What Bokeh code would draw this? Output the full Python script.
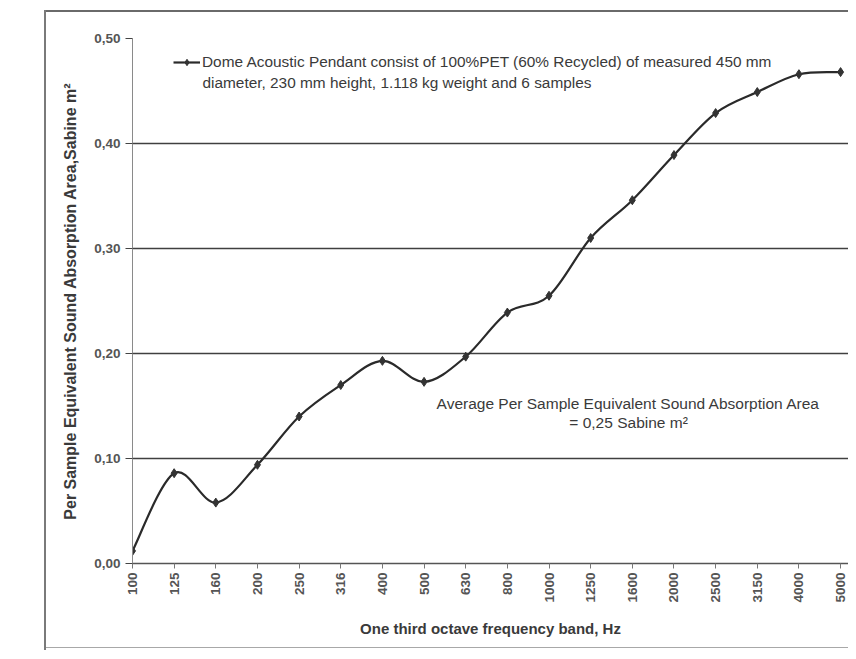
import math
from bokeh.plotting import figure
from bokeh.models import (Range1d, FixedTicker, Label, Legend, LegendItem,
                          ColumnDataSource)
from bokeh.embed import file_html
from bokeh.resources import INLINE

# ---------------- data ----------------
freq_labels = ["100", "125", "160", "200", "250", "316", "400", "500", "630",
               "800", "1000", "1250", "1600", "2000", "2500", "3150", "4000", "5000"]
absorption = [0.012, 0.086, 0.058, 0.094, 0.140, 0.170, 0.193, 0.173, 0.197,
              0.239, 0.255, 0.310, 0.346, 0.389, 0.429, 0.449, 0.466, 0.468]
y_ticks = [0.0, 0.1, 0.2, 0.3, 0.4, 0.5]
y_tick_labels = ["0,00", "0,10", "0,20", "0,30", "0,40", "0,50"]

series_label_1 = "Dome Acoustic Pendant consist of 100%PET (60% Recycled) of measured 450 mm"
series_label_2 = "diameter, 230 mm height, 1.118 kg weight and 6 samples"
note_1 = "Average Per Sample Equivalent Sound Absorption Area"
note_2 = "= 0,25 Sabine m\u00b2"
x_title = "One third octave frequency band, Hz"
y_title = "Per Sample Equivalent Sound Absorption Area,Sabine m\u00b2"

# ---------------- styling ----------------
FONT = "Liberation Sans"
TXT = "#3a3a3a"
LINE = "#2a2a2a"

xs = list(range(len(freq_labels)))

# smooth curve segments (Catmull-Rom -> cubic Bezier) computed from the data
n = len(xs)
seg = dict(x0=[], y0=[], x1=[], y1=[], cx0=[], cy0=[], cx1=[], cy1=[])
for i in range(n - 1):
    pm = (xs[max(i - 1, 0)], absorption[max(i - 1, 0)])
    p0 = (xs[i], absorption[i])
    p1 = (xs[i + 1], absorption[i + 1])
    pp = (xs[min(i + 2, n - 1)], absorption[min(i + 2, n - 1)])
    seg["x0"].append(p0[0]); seg["y0"].append(p0[1])
    seg["x1"].append(p1[0]); seg["y1"].append(p1[1])
    seg["cx0"].append(p0[0] + (p1[0] - pm[0]) / 6.0)
    seg["cy0"].append(p0[1] + (p1[1] - pm[1]) / 6.0)
    seg["cx1"].append(p1[0] - (pp[0] - p0[0]) / 6.0)
    seg["cy1"].append(p1[1] - (pp[1] - p0[1]) / 6.0)

p = figure(width=848, height=651, output_backend="svg", toolbar_location=None,
           x_range=Range1d(0, 17.19), y_range=Range1d(0, 0.5),
           min_border_left=132, min_border_right=0,
           min_border_top=38, min_border_bottom=88)
p.outline_line_color = None
p.background_fill_color = "white"
p.border_fill_color = None
# outer chart border drawn as CSS background lines behind the transparent border area
p.styles = {
    "background-color": "white",
    "background-image": ("linear-gradient(#7a7a7a,#7a7a7a), "
                         "linear-gradient(#6a6a6a,#6a6a6a), "
                         "linear-gradient(#a8a8a8,#a8a8a8)"),
    "background-position": "44px 10px, 44px 10px, 44px 647px",
    "background-size": "2px 640px, 820px 2px, 820px 1px",
    "background-repeat": "no-repeat",
}

# axes
p.yaxis.ticker = FixedTicker(ticks=y_ticks)
p.yaxis.major_label_overrides = {t: l for t, l in zip(y_ticks, y_tick_labels)}
p.yaxis.minor_tick_line_color = None
p.yaxis.major_tick_out = 7
p.yaxis.major_tick_in = 0
p.yaxis.major_tick_line_color = "#444444"
p.yaxis.major_tick_line_width = 1.2
p.yaxis.axis_line_color = "#8a8a8a"
p.yaxis.major_label_text_font = FONT
p.yaxis.major_label_text_font_size = "13.5px"
p.yaxis.major_label_text_font_style = "bold"
p.yaxis.major_label_text_color = "#555555"
p.yaxis.major_label_standoff = 5
p.yaxis.axis_label = y_title
p.yaxis.axis_label_text_font = FONT
p.yaxis.axis_label_text_font_size = "16px"
p.yaxis.axis_label_text_font_style = "bold"
p.yaxis.axis_label_text_color = TXT
p.yaxis.axis_label_standoff = 12

p.xaxis.ticker = FixedTicker(ticks=xs)
p.xaxis.major_label_overrides = {i: l for i, l in zip(xs, freq_labels)}
p.xaxis.major_label_orientation = math.pi / 2
p.xaxis.minor_tick_line_color = None
p.xaxis.major_tick_out = 5
p.xaxis.major_tick_in = 0
p.xaxis.major_tick_line_color = "#777777"
p.xaxis.axis_line_color = "#555555"
p.xaxis.axis_line_width = 1.3
p.xaxis.major_label_text_font = FONT
p.xaxis.major_label_text_font_size = "13.5px"
p.xaxis.major_label_text_font_style = "bold"
p.xaxis.major_label_text_color = "#555555"
p.xaxis.major_label_standoff = 4
p.xaxis.axis_label = x_title
p.xaxis.axis_label_text_font = FONT
p.xaxis.axis_label_text_font_size = "15px"
p.xaxis.axis_label_text_font_style = "bold"
p.xaxis.axis_label_text_color = TXT
p.xaxis.axis_label_standoff = 14

p.xgrid.grid_line_color = None
p.ygrid.ticker = FixedTicker(ticks=y_ticks)
p.ygrid.grid_line_color = "#404040"
p.ygrid.grid_line_width = 1.3

src = ColumnDataSource(seg)
curve = p.bezier(x0="x0", y0="y0", x1="x1", y1="y1", cx0="cx0", cy0="cy0",
                 cx1="cx1", cy1="cy1", source=src, line_color=LINE, line_width=2.2)
marks = p.scatter(x=xs, y=absorption, marker="diamond", size=9,
                  fill_color="#333333", line_color="#333333")

# legend (glyph sample + first text line), second line as label
legend = Legend(items=[LegendItem(label=series_label_1, renderers=[curve, marks])],
                location=(41, 492), orientation="vertical",
                padding=0, margin=0, spacing=0,
                glyph_width=27, glyph_height=16, label_height=16,
                label_standoff=2, border_line_color=None,
                background_fill_alpha=0,
                label_text_font=FONT, label_text_font_size="15.4px",
                label_text_color=TXT)
p.add_layout(legend)

p.add_layout(Label(x=1.68, y=0.458, text=series_label_2, text_font=FONT,
                   text_font_size="15.4px", text_color=TXT,
                   text_baseline="middle", text_align="left"))

p.add_layout(Label(x=11.91, y=0.1524, text=note_1, text_font=FONT,
                   text_font_size="15.5px", text_color=TXT,
                   text_baseline="middle", text_align="center"))
p.add_layout(Label(x=11.91, y=0.1343, text=note_2, text_font=FONT,
                   text_font_size="15.5px", text_color=TXT,
                   text_baseline="middle", text_align="center"))

open("out.html", "w").write(file_html(p, INLINE))
